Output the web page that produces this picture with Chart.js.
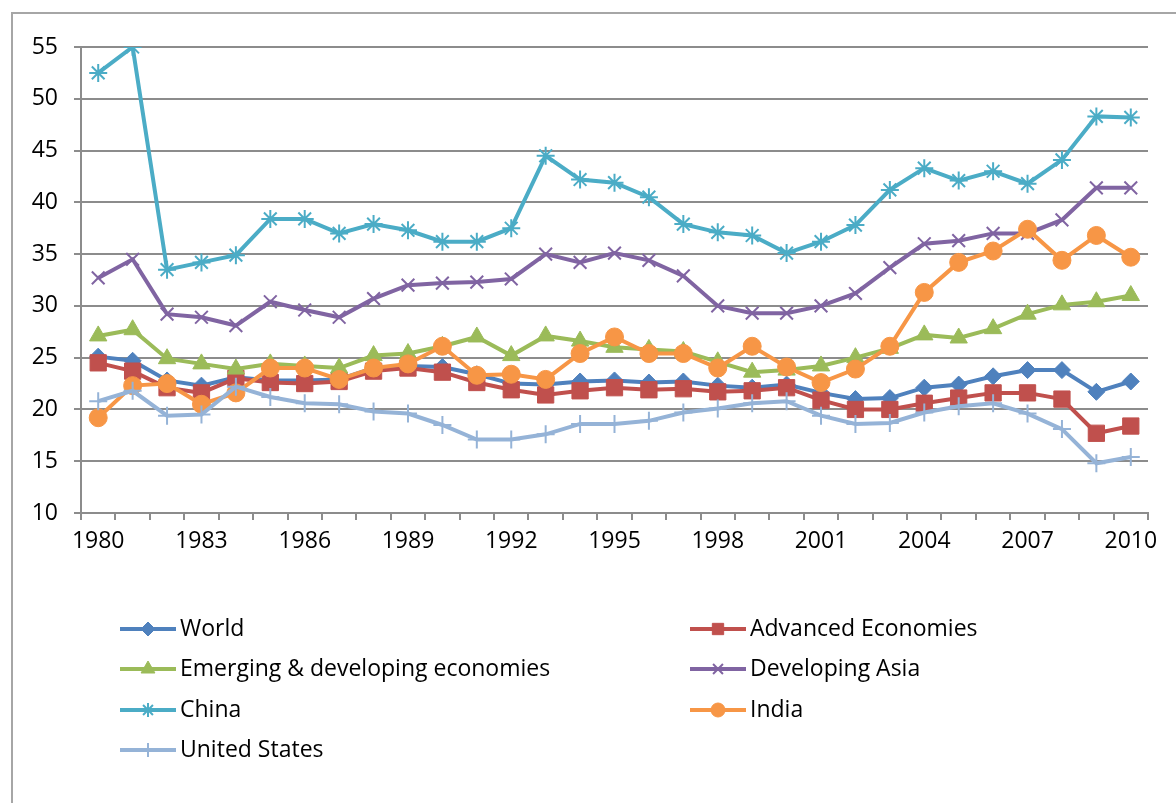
<!DOCTYPE html>
<html>
<head>
<meta charset="utf-8">
<script src="https://cdn.jsdelivr.net/npm/chart.js@4/dist/chart.umd.min.js"></script>
<style>
  html, body { margin: 0; padding: 0; background: #fff; }
  #wrap { width: 1176px; height: 803px; position: relative; }
</style>
</head>
<body>
<div id="wrap"><canvas id="savingsChart"></canvas></div>
<script>
// Years on the category axis
const years = [];
for (let y = 1980; y <= 2010; y++) years.push(String(y));

const world = [25.1, 24.7, 22.8, 22.3, 23.1, 22.8, 22.8, 22.9, 24.0, 24.2, 24.1, 23.4, 22.5, 22.4, 22.7, 22.8,
    22.6, 22.7, 22.3, 22.1, 22.4, 21.6, 21.0, 21.1, 22.1, 22.4, 23.2, 23.8, 23.8, 21.7, 22.7];
const advanced = [24.5, 23.7, 22.1, 21.6, 23.0, 22.6, 22.5, 22.7, 23.7, 24.0, 23.6, 22.6, 21.9, 21.4, 21.8, 22.1,
    21.9, 22.0, 21.7, 21.8, 22.1, 20.9, 20.0, 20.0, 20.6, 21.1, 21.6, 21.6, 21.0, 17.7, 18.4];
const emerging = [27.1, 27.7, 24.9, 24.4, 23.9, 24.4, 24.2, 24.0, 25.2, 25.4, 26.1, 27.0, 25.2, 27.1, 26.6, 26.0,
    25.8, 25.6, 24.6, 23.6, 23.8, 24.2, 25.0, 25.9, 27.2, 26.9, 27.8, 29.2, 30.1, 30.4, 31.0];
const devAsia = [32.7, 34.5, 29.2, 28.9, 28.1, 30.4, 29.6, 28.9, 30.7, 32.0, 32.2, 32.3, 32.6, 35.0, 34.2, 35.1,
    34.4, 32.9, 30.0, 29.3, 29.3, 30.0, 31.2, 33.7, 36.0, 36.3, 37.0, 37.0, 38.3, 41.4, 41.4];
const china = [52.5, 55.0, 33.5, 34.2, 34.9, 38.4, 38.4, 37.0, 37.9, 37.3, 36.2, 36.2, 37.5, 44.5, 42.2, 41.9,
    40.5, 37.9, 37.1, 36.8, 35.1, 36.2, 37.8, 41.2, 43.3, 42.1, 43.0, 41.8, 44.1, 48.3, 48.2];
const india = [19.2, 22.3, 22.5, 20.5, 21.6, 24.0, 24.0, 22.9, 24.0, 24.4, 26.1, 23.3, 23.4, 22.9, 25.4, 27.0,
    25.4, 25.4, 24.0, 26.1, 24.1, 22.6, 23.9, 26.1, 31.3, 34.2, 35.3, 37.4, 34.4, 36.8, 34.7];
const unitedStates = [20.8, 21.8, 19.4, 19.5, 22.2, 21.2, 20.6, 20.5, 19.8, 19.6, 18.5, 17.1, 17.1, 17.6, 18.6, 18.6,
    18.9, 19.7, 20.1, 20.6, 20.8, 19.4, 18.6, 18.7, 19.7, 20.3, 20.6, 19.6, 18.1, 14.8, 15.4];

const seriesNames = ['World', 'Advanced Economies', 'Emerging & developing economies', 'Developing Asia',
    'China', 'India', 'United States'];
const seriesData = [world, advanced, emerging, devAsia, china, india, unitedStates];
const seriesColors = ['#4F81BD', '#C0504D', '#9BBB59', '#8064A2', '#4BACC6', '#F79646', '#95B3D7'];
const seriesMarkers = ['rectRot', 'rect', 'triangle', 'crossRot', 'star', 'circle', 'cross'];
const markerSizes = [8.5, 11.5, 10, 9, 9, 9, 9];
const legendMarkerSizes = [7, 8, 8, 7, 7, 7, 7];

const fontFamily = '"Open Sans", "Liberation Sans", sans-serif';
const gridColor = '#8c8c8c';

const datasets = seriesNames.map(function(name, i) {
    const isLine = seriesMarkers[i] === 'cross' || seriesMarkers[i] === 'crossRot' || seriesMarkers[i] === 'star';
    return {
        label: name,
        data: seriesData[i],
        borderColor: seriesColors[i],
        backgroundColor: seriesColors[i],
        borderWidth: 4,
        pointStyle: seriesMarkers[i],
        pointRadius: markerSizes[i],
        pointBorderWidth: isLine ? 2 : 1,
        pointBorderColor: seriesColors[i],
        pointBackgroundColor: seriesColors[i],
        tension: 0,
        order: seriesNames.length - i
    };
});

// Outer frame of the chart
const framePlugin = {
    id: 'frame',
    beforeDraw(chart) {
        const ctx = chart.ctx;
        ctx.save();
        ctx.strokeStyle = '#a6a6a6';
        ctx.lineWidth = 2;
        ctx.strokeRect(12, 13, chart.width + 20, chart.height + 20);
        ctx.restore();
    }
};

// Two-column legend below the plot
const legendPlugin = {
    id: 'twoColLegend',
    afterDraw(chart) {
        const ctx = chart.ctx;
        const colX = [120, 690];
        const rowY = [629, 669, 710, 750];
        ctx.save();
        chart.data.datasets.forEach(function(ds, i) {
            const x = colX[i % 2];
            const y = rowY[Math.floor(i / 2)];
            ctx.strokeStyle = ds.borderColor;
            ctx.lineWidth = 4;
            ctx.beginPath();
            ctx.moveTo(x, y);
            ctx.lineTo(x + 56, y);
            ctx.stroke();
            ctx.fillStyle = ds.backgroundColor;
            ctx.strokeStyle = ds.borderColor;
            ctx.lineWidth = ds.pointBorderWidth;
            Chart.helpers.drawPoint(ctx, {
                pointStyle: ds.pointStyle,
                radius: legendMarkerSizes[i],
                rotation: 0,
                borderWidth: ds.pointBorderWidth
            }, x + 28, y);
            ctx.fillStyle = '#000';
            ctx.font = '23px ' + fontFamily;
            ctx.textBaseline = 'middle';
            ctx.textAlign = 'left';
            ctx.fillText(ds.label, x + 60, y);
        });
        ctx.restore();
    }
};

new Chart(document.getElementById('savingsChart'), {
    type: 'line',
    data: { labels: years, datasets: datasets },
    plugins: [framePlugin, legendPlugin],
    options: {
        responsive: true,
        maintainAspectRatio: false,
        animation: false,
        layout: { padding: { left: 11, top: 47, right: 28, bottom: 0 } },
        plugins: {
            legend: { display: false },
            tooltip: { enabled: false }
        },
        scales: {
            x: {
                offset: true,
                afterFit: function(scale) { scale.height = 290; },
                grid: {
                    offset: true,
                    drawOnChartArea: false,
                    drawTicks: true,
                    tickLength: 7,
                    color: gridColor,
                    lineWidth: 2
                },
                border: { color: gridColor, width: 2 },
                ticks: {
                    autoSkip: false,
                    maxRotation: 0,
                    padding: 8,
                    color: '#000',
                    font: { family: fontFamily, size: 23 },
                    callback: function(value, index) {
                        return index % 3 === 0 ? this.getLabelForValue(value) : '';
                    }
                }
            },
            y: {
                min: 10,
                max: 55,
                afterFit: function(scale) { scale.width = 70; },
                grid: {
                    color: gridColor,
                    lineWidth: 2,
                    tickLength: 7
                },
                border: { color: gridColor, width: 2 },
                ticks: {
                    stepSize: 5,
                    padding: 16,
                    color: '#000',
                    font: { family: fontFamily, size: 23 }
                }
            }
        }
    }
});
</script>
</body>
</html>
